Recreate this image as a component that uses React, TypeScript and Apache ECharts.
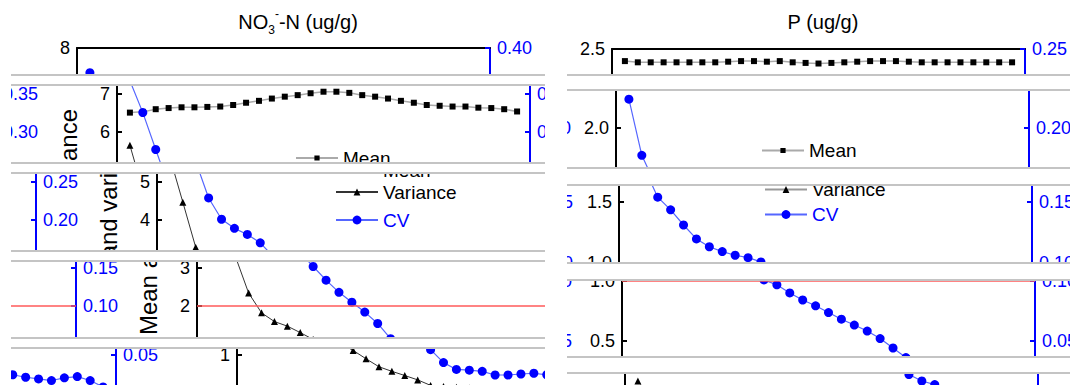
import React, { useEffect, useRef } from "react";
import * as echarts from "echarts";

// ---------- data ----------
const xValues = [1, 2, 3, 4, 5, 6, 7, 8, 9, 10, 11, 12, 13, 14, 15, 16, 17, 18, 19, 20, 21, 22, 23, 24, 25, 26, 27, 28, 29, 30, 31];

const meanN = [6.51, 6.53, 6.6, 6.63, 6.65, 6.65, 6.66, 6.67, 6.71, 6.77, 6.82, 6.88, 6.93, 6.97, 7.02, 7.06, 7.06, 7.03, 6.97, 6.93, 6.88, 6.82, 6.77, 6.71, 6.69, 6.67, 6.67, 6.64, 6.63, 6.6, 6.54];
const varianceN = [5.65, 4.47, 3.28, 2.34, 1.82, 1.59, 1.47, 1.3, 1.12, 0.9, 0.69, 0.57, 0.46, 0.345, 0.2, 0.17, 0.15, 0.13, 0.11, 0.1, 0.09, 0.085, 0.08, 0.075, 0.07, 0.065, 0.06, 0.055, 0.05, 0.05, 0.045];
const cvN = [0.3675, 0.3255, 0.277, 0.229, 0.201, 0.189, 0.181, 0.17, 0.152, 0.134, 0.118, 0.105, 0.092, 0.077, 0.057, 0.04, 0.031, 0.03, 0.0285, 0.0237, 0.0237, 0.025, 0.026, 0.024, 0.0207, 0.0185, 0.0164, 0.02, 0.0216, 0.0164, 0.008];

const meanP = [2.4, 2.39, 2.39, 2.39, 2.39, 2.39, 2.39, 2.39, 2.395, 2.4, 2.4, 2.395, 2.4, 2.39, 2.385, 2.38, 2.385, 2.39, 2.395, 2.4, 2.4, 2.4, 2.395, 2.39, 2.39, 2.39, 2.39, 2.39, 2.39, 2.39, 2.39];
const varianceP = [0.31, 0.17, 0.11, 0.08, 0.065, 0.055, 0.05, 0.045, 0.04, 0.038, 0.036, 0.034, 0.032, 0.03, 0.028, 0.027, 0.026, 0.025, 0.024, 0.023, 0.022, 0.021, 0.02, 0.02, 0.019, 0.019, 0.018, 0.018, 0.018, 0.017, 0.017];
const cvP = [0.2234, 0.177, 0.154, 0.1435, 0.131, 0.1195, 0.113, 0.109, 0.106, 0.104, 0.1005, 0.0964, 0.0897, 0.0839, 0.0791, 0.0735, 0.068, 0.0632, 0.0582, 0.052, 0.0442, 0.0363, 0.031, 0.028, 0.021, 0.02, 0.019, 0.018, 0.018, 0.017, 0.016];

const cvThreshold = 0.1;
const legendNames = ["Mean", "Variance", "CV"];

const FONT = "'Liberation Sans', Arial, Helvetica, sans-serif";

type PanelSpec = {
  title: string;
  rich: boolean;
  titleX: number;
  gridLeft: number;
  gridTop: number;
  gridHeight: number;
  yMax: number;
  yInterval: number;
  yDecimals: number;
  cvMax: number;
  mean: number[];
  variance: number[];
  cv: number[];
  varianceLine: string;
  legendLeft: number;
  legendY: number[];
  axisName: string;
  axisNameX: number;
  axisNameY: number;
};

function buildOption(p: PanelSpec) {
  const pairs = (arr: number[]) => xValues.map((x, i) => [x, arr[i]]);
  const legendColors = ["#000", "#000", "#0000ff"];
  const legendItemH = [6.5, 8.5, 11];
  const legends = legendNames.map((name, i) => ({
    data: [name],
    orient: "horizontal",
    left: p.legendLeft,
    top: p.legendY[i] - 10,
    itemWidth: 42,
    itemHeight: legendItemH[i],
    padding: 0,
    selectedMode: false,
    textStyle: { fontSize: 19, fontFamily: FONT, color: legendColors[i] },
  }));
  const xBase = {
    type: "value",
    min: 0,
    max: 32,
    axisLine: { show: true, onZero: false, lineStyle: { color: "#000", width: 2 } },
    axisTick: { show: false },
    axisLabel: { show: false },
    splitLine: { show: false },
  };
  const graphic: any[] = [
    {
      type: "text",
      x: p.titleX,
      y: 22,
      style: p.rich
        ? {
            text: p.title,
            fill: "#000",
            fontSize: 20,
            fontFamily: FONT,
            lineHeight: 28,
            align: "center",
            verticalAlign: "middle",
            rich: {
              sub: { fontSize: 12, fontFamily: FONT, fill: "#000", verticalAlign: "bottom", lineHeight: 12 },
              sup: { fontSize: 12, fontFamily: FONT, fill: "#000", verticalAlign: "top", lineHeight: 18 },
            },
          }
        : {
            text: p.title,
            fill: "#000",
            fontSize: 20,
            fontFamily: FONT,
            align: "center",
            verticalAlign: "middle",
          },
    },
  ];
  if (p.axisName) {
    graphic.push({
      type: "text",
      x: p.axisNameX,
      y: p.axisNameY,
      rotation: Math.PI / 2,
      style: {
        text: p.axisName,
        fill: "#000",
        fontSize: 24,
        fontFamily: FONT,
        align: "center",
        verticalAlign: "middle",
      },
    });
  }
  return {
    animation: false,
    grid: { left: p.gridLeft, top: p.gridTop, width: 413, height: p.gridHeight },
    xAxis: [
      { ...xBase, position: "bottom" },
      { ...xBase, position: "top" },
    ],
    yAxis: [
      {
        type: "value",
        min: 0,
        max: p.yMax,
        interval: p.yInterval,
        position: "left",
        axisLine: { show: true, onZero: false, lineStyle: { color: "#000", width: 2 } },
        axisTick: { show: true, inside: true, length: 5, lineStyle: { color: "#000", width: 2 } },
        axisLabel: {
          color: "#000",
          fontSize: 18,
          fontFamily: FONT,
          margin: 7,
          formatter: (v: number) => v.toFixed(p.yDecimals),
        },
        splitLine: { show: false },
      },
      {
        type: "value",
        min: 0,
        max: p.cvMax,
        interval: 0.05,
        position: "right",
        axisLine: { show: true, onZero: false, lineStyle: { color: "#0000ff", width: 2 } },
        axisTick: { show: true, inside: true, length: 5, lineStyle: { color: "#0000ff", width: 2 } },
        axisLabel: {
          color: "#0000ff",
          fontSize: 18,
          fontFamily: FONT,
          margin: 7,
          formatter: (v: number) => v.toFixed(2),
        },
        splitLine: { show: false },
      },
    ],
    legend: legends,
    graphic,
    series: [
      {
        name: "Mean",
        type: "line",
        data: pairs(p.mean),
        symbol: "rect",
        symbolSize: 6,
        itemStyle: { color: "#000" },
        lineStyle: { color: "#aaaaaa", width: 1.5 },
      },
      {
        name: "Variance",
        type: "line",
        data: pairs(p.variance),
        symbol: "triangle",
        symbolSize: 7,
        itemStyle: { color: "#000" },
        lineStyle: { color: p.varianceLine, width: 1 },
      },
      {
        name: "CV",
        type: "line",
        yAxisIndex: 1,
        data: pairs(p.cv),
        symbol: "circle",
        symbolSize: 9,
        itemStyle: { color: "#0000ff" },
        lineStyle: { color: "#5566ff", width: 1.2 },
        markLine: {
          silent: true,
          symbol: "none",
          label: { show: false },
          lineStyle: { color: "#ff5a5a", width: 1.5, type: "solid" },
          data: [{ yAxis: cvThreshold }],
        },
      },
    ],
  };
}

const panelN: PanelSpec = {
  title: "NO{sub|3}{sup|-}-N (ug/g)",
  rich: true,
  titleX: 287,
  gridLeft: 66,
  gridTop: 48,
  gridHeight: 304,
  yMax: 8,
  yInterval: 1,
  yDecimals: 0,
  cvMax: 0.4,
  mean: meanN,
  variance: varianceN,
  cv: cvN,
  varianceLine: "#333333",
  legendLeft: 244,
  legendY: [150.5, 172.5, 200.5],
  axisName: "Mean and variance",
  axisNameX: 17,
  axisNameY: 203,
};

const panelP: PanelSpec = {
  title: "P (ug/g)",
  rich: false,
  titleX: 256,
  gridLeft: 45,
  gridTop: 49,
  gridHeight: 302.5,
  yMax: 2.5,
  yInterval: 0.5,
  yDecimals: 1,
  cvMax: 0.25,
  mean: meanP,
  variance: varianceP,
  cv: cvP,
  varianceLine: "#999999",
  legendLeft: 190,
  legendY: [133, 158, 183],
  axisName: "",
  axisNameX: 0,
  axisNameY: 0,
};

const optionN = buildOption(panelN);
const optionP = buildOption(panelP);

// strips: [top, bottom, vertical offset, horizontal shift, wrap period (0 = none)]
const stripsN = [
  [0, 75, 0, 0, 0],
  [85, 163, 7.5, 40, 534],
  [173, 251, 19.5, 80, 534],
  [261, 338, 29.5, 120, 534],
  [348, 385, 41, 160, 534],
];
const stripsP = [
  [0, 75, 0, 0, 0],
  [90, 168, 17.5, 3.5, 500],
  [185, 263, 32, 6.5, 501],
  [280, 357, 50, 10, 505],
  [373, 385, 66.5, 12.5, 505],
];

const CHART_H = 400;

function ChartPiece({ option, width, left, top }: { option: any; width: number; left: number; top: number }) {
  const ref = useRef<HTMLDivElement>(null);
  useEffect(() => {
    if (!ref.current) return;
    const chart = echarts.init(ref.current, undefined, { renderer: "svg", width, height: CHART_H });
    chart.setOption(option);
    return () => chart.dispose();
  }, [option, width]);
  return <div ref={ref} style={{ position: "absolute", left, top, width, height: CHART_H }} />;
}

function Panel({
  option,
  chartWidth,
  winLeft,
  winWidth,
  strips,
}: {
  option: any;
  chartWidth: number;
  winLeft: number;
  winWidth: number;
  strips: number[][];
}) {
  const lines: number[] = [];
  strips.forEach((s, i) => {
    if (i > 0) lines.push(s[0]);
    if (i < strips.length - 1) lines.push(s[1]);
  });
  return (
    <>
      {strips.map((s, i) => {
        const [top, bottom, offset, shift, period] = s;
        return (
          <div
            key={"s" + i}
            style={{
              position: "absolute",
              left: winLeft,
              top,
              width: winWidth,
              height: bottom - top,
              overflow: "hidden",
              background: "#fff",
            }}
          >
            <ChartPiece option={option} width={chartWidth} left={shift} top={offset - top} />
            {period > 0 && <ChartPiece option={option} width={chartWidth} left={shift - period} top={offset - top} />}
          </div>
        );
      })}
      {lines.map((y, i) => (
        <div
          key={"l" + i}
          style={{
            position: "absolute",
            left: winLeft,
            top: y - 1,
            width: winWidth,
            height: 2,
            background: "#c4c4c4",
            zIndex: 5,
          }}
        />
      ))}
    </>
  );
}

export default function App() {
  return (
    <div
      style={{
        position: "fixed",
        left: 0,
        top: 0,
        width: 1070,
        height: 385,
        background: "#fff",
        overflow: "hidden",
      }}
    >
      <Panel option={optionN} chartWidth={534} winLeft={11} winWidth={534} strips={stripsN} />
      <Panel option={optionP} chartWidth={560} winLeft={567} winWidth={503} strips={stripsP} />
    </div>
  );
}
